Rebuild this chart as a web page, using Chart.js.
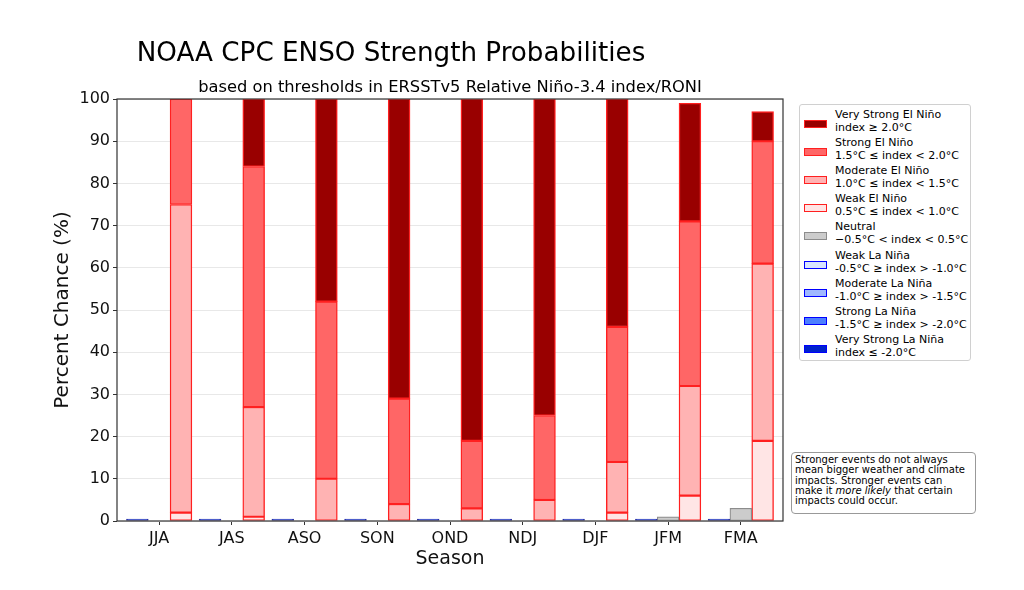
<!DOCTYPE html>
<html lang="en">
<head>
<meta charset="UTF-8">
<title>NOAA CPC ENSO Strength Probabilities</title>
<script src="https://cdn.jsdelivr.net/npm/chart.js"></script>
<style>
	body { margin: 0; background: #fff; font-family: "DejaVu Sans", sans-serif; }
	#wrap { position: relative; width: 1024px; height: 590px; }
	#legend { position: absolute; left: 799px; top: 104px; width: 170px; height: 255px; border: 1px solid #d0d0d0; border-radius: 3px; background: #fff; }
	.item { position: absolute; left: 0; width: 170px; height: 26px; }
	.sw { position: absolute; left: 4px; top: 12px; width: 21px; height: 6px; }
	.lbl { position: absolute; left: 35px; top: 0; font-size: 11px; line-height: 13px; color: #000; white-space: nowrap; }
	#note { position: absolute; left: 791px; top: 452px; width: 177px; height: 56px; border: 1px solid #999; border-radius: 4px; padding: 2px 3px; font-size: 10px; line-height: 10.3px; color: #000; background: #fff; }
</style>
</head>
<body>
<div id="wrap">
	<canvas id="ensoChart" width="1024" height="590"></canvas>
	<div id="legend"></div>
	<div id="note">Stronger events do not always mean bigger weather and climate impacts. Stronger events can make it <i>more likely</i> that certain impacts could occur.</div>
</div>
<script>
	// seasons and probabilities (%)
	const seasons = ["JJA", "JAS", "ASO", "SON", "OND", "NDJ", "DJF", "JFM", "FMA"];
	const yTicks = [0, 10, 20, 30, 40, 50, 60, 70, 80, 90, 100];

	const veryStrongNina = [0, 0, 0, 0, 0, 0, 0, 0, 0];
	const strongNina = [0, 0, 0, 0, 0, 0, 0, 0, 0];
	const moderateNina = [0, 0, 0, 0, 0, 0, 0, 0, 0];
	const weakNina = [0, 0, 0, 0, 0, 0, 0, 0, 0];
	const neutral = [0, 0, 0, 0, 0, 0, 0, 1, 3];
	const weakNino = [2, 1, 0, 0, 0, 0, 2, 6, 19];
	const moderateNino = [73, 26, 10, 4, 3, 5, 12, 26, 42];
	const strongNino = [25, 57, 42, 25, 16, 20, 32, 39, 29];
	const veryStrongNino = [0, 16, 48, 71, 81, 75, 54, 28, 7];

	function series(name, range, values, shift, fill, edge, extra) {
		return Object.assign({
			label: name,
			range: range,
			swatchEdge: edge,
			data: values.map((v, i) => ({ x: i + shift, y: v })),
			backgroundColor: fill,
			borderColor: edge,
			borderWidth: 1.4,
			borderSkipped: false,
			categoryPercentage: 1,
			barPercentage: 1
		}, extra || {});
	}

	// stacking order: bottom first
	const datasets = [
		series("Weak La Niña", "-0.5°C ≥ index > -1.0°C", weakNina, -0.3, "#d9e5ff", "#0000ff"),
		series("Moderate La Niña", "-1.0°C ≥ index > -1.5°C", moderateNina, -0.3, "#a0b8ff", "#0000ff"),
		series("Strong La Niña", "-1.5°C ≥ index > -2.0°C", strongNina, -0.3, "#4d7fff", "#0000ff"),
		series("Very Strong La Niña", "index ≤ -2.0°C", veryStrongNina, -0.3, "#0022cc", "#3a3a9a", { minBarLength: 2, borderWidth: 1, swatchEdge: "#0000ff" }),
		series("Neutral", "\u22120.5°C < index < 0.5°C", neutral, 0, "#cccccc", "#8c8c8c", { borderWidth: 1.2 }),
		series("Weak El Niño", "0.5°C ≤ index < 1.0°C", weakNino, 0.3, "#ffe5e5", "#ff2020"),
		series("Moderate El Niño", "1.0°C ≤ index < 1.5°C", moderateNino, 0.3, "#ffb3b3", "#ff2020"),
		series("Strong El Niño", "1.5°C ≤ index < 2.0°C", strongNino, 0.3, "#ff6666", "#ff2020"),
		series("Very Strong El Niño", "index ≥ 2.0°C", veryStrongNino, 0.3, "#990000", "#ff2020")
	];
	const legendOrder = [8, 7, 6, 5, 4, 0, 1, 2, 3];

	const frameAndTitles = {
		id: "frameAndTitles",
		afterDatasetsDraw(chart) {
			const { ctx, chartArea: a } = chart;
			ctx.save();
			ctx.strokeStyle = "#333";
			ctx.lineWidth = 1.2;
			ctx.strokeRect(a.left, a.top, a.right - a.left, a.bottom - a.top);
			ctx.fillStyle = "#000";
			ctx.textAlign = "center";
			ctx.textBaseline = "alphabetic";
			ctx.font = "26.2px 'DejaVu Sans'";
			ctx.fillText("NOAA CPC ENSO Strength Probabilities", 391, 61);
			ctx.font = "16.3px 'DejaVu Sans'";
			ctx.fillText("based on thresholds in ERSSTv5 Relative Niño-3.4 index/RONI", (a.left + a.right) / 2, 92);
			ctx.restore();
		}
	};

	new Chart(document.getElementById("ensoChart"), {
		type: "bar",
		data: { datasets: datasets },
		options: {
			responsive: false,
			animation: false,
			layout: { padding: { left: 0, right: 241, top: 99, bottom: 0 } },
			plugins: { legend: { display: false }, tooltip: { enabled: false } },
			scales: {
				x: {
					type: "linear",
					stacked: true,
					offset: false,
					min: -0.58,
					max: 8.58,
					afterFit: s => { s.height = 69; },
					afterBuildTicks: s => { s.ticks = seasons.map((_, i) => ({ value: i })); },
					grid: { offset: false, drawOnChartArea: false, tickLength: 4, tickColor: "#333" },
					border: { display: false },
					ticks: {
						callback: v => seasons[v],
						font: { family: "DejaVu Sans", size: 16 },
						color: "#111",
						padding: 4,
						maxRotation: 0,
						autoSkip: false
					},
					title: {
						display: true,
						text: "Season",
						font: { family: "DejaVu Sans", size: 19 },
						color: "#111",
						padding: { top: 0, bottom: 20 }
					}
				},
				y: {
					stacked: true,
					min: 0,
					max: 100,
					afterFit: s => { s.width = 117; },
					afterBuildTicks: s => { s.ticks = yTicks.map(v => ({ value: v })); },
					grid: { color: "#e8e8e8", lineWidth: 1, tickLength: 4, tickColor: "#333" },
					border: { display: false },
					ticks: {
						font: { family: "DejaVu Sans", size: 16 },
						color: "#111",
						padding: 3
					},
					title: {
						display: true,
						text: "Percent Chance (%)",
						font: { family: "DejaVu Sans", size: 20 },
						color: "#111",
						padding: { top: 51, bottom: 0 }
					}
				}
			}
		},
		plugins: [frameAndTitles]
	});

	// legend on the right: El Niño from strongest down, then Neutral, then La Niña from weakest
	const legend = document.getElementById("legend");
	legendOrder.forEach((idx, k) => {
		const d = datasets[idx];
		const item = document.createElement("div");
		item.className = "item";
		item.style.top = (2.5 + k * 28.2) + "px";
		item.innerHTML = '<div class="sw" style="background:' + d.backgroundColor + ';border:1px solid ' + d.swatchEdge + '"></div>' +
			'<div class="lbl">' + d.label + "<br>" + d.range + "</div>";
		legend.appendChild(item);
	});
</script>
</body>
</html>
